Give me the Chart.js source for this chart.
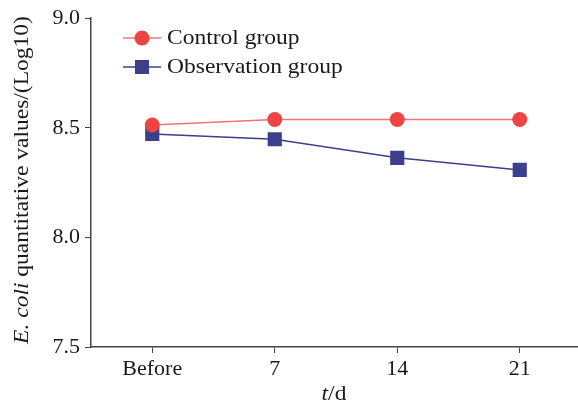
<!DOCTYPE html>
<html>
<head>
<meta charset="utf-8">
<script src="https://cdn.jsdelivr.net/npm/chart.js@4/dist/chart.umd.min.js"></script>
<style>
  html, body { margin: 0; padding: 0; background: #fff; overflow: hidden; }
  #wrap { width: 578px; height: 405px; overflow: hidden; }
  #lineChart { display: block; }
</style>
</head>
<body>
<div id="wrap"><canvas id="lineChart" width="591" height="405"></canvas></div>
<script>
// Chart data
const categories = ["Before", "7", "14", "21"];
const controlValues = [8.513, 8.538, 8.538, 8.538];
const observationValues = [8.472, 8.448, 8.363, 8.308];
const yTicks = [7.5, 8.0, 8.5, 9.0];

const seriesNames = ["Control group", "Observation group"];
const red = "#ef4444";
const redLine = "#f07474";
const blue = "#3b3f8c";
const serif = "'Liberation Serif', 'Times New Roman', serif";
const stretch = 1.12; // reference text is a bit wider than the font

// write a run of [text, italic] parts, stretched horizontally, starting at x
function drawParts(c, parts, x, y, align) {
  let total = 0;
  parts.forEach((p) => {
    c.font = (p[1] ? "italic " : "") + "21px " + serif;
    total += c.measureText(p[0]).width;
  });
  c.save();
  c.translate(x, y);
  c.scale(stretch, 1);
  let pos = align === "center" ? -total / 2 : 0;
  parts.forEach((p) => {
    c.font = (p[1] ? "italic " : "") + "21px " + serif;
    c.fillText(p[0], pos, 0);
    pos += c.measureText(p[0]).width;
  });
  c.restore();
}

// Draws the legend and the two axis titles (mixed italic text)
const extras = {
  id: "extras",
  afterDraw(chart) {
    const c = chart.ctx;
    c.save();
    c.textBaseline = "middle";
    c.textAlign = "left";

    // legend
    const rows = [
      { y: 38, line: redLine, fill: red, shape: "circle", text: seriesNames[0] },
      { y: 67, line: blue, fill: blue, shape: "rect", text: seriesNames[1] },
    ];
    rows.forEach((r) => {
      c.strokeStyle = r.line;
      c.lineWidth = 1.5;
      c.beginPath();
      c.moveTo(123, r.y);
      c.lineTo(161, r.y);
      c.stroke();
      c.fillStyle = r.fill;
      if (r.shape === "circle") {
        c.beginPath();
        c.arc(142, r.y, 7.5, 0, Math.PI * 2);
        c.fill();
      } else {
        c.fillRect(135, r.y - 7, 14, 14);
      }
      c.fillStyle = "#1a1a1a";
      drawParts(c, [[r.text, false]], 167, r.y, "left");
    });

    // x title: t/d
    drawParts(c, [["t", true], ["/d", false]], 334, 394, "center");

    // y title
    c.translate(22, 180);
    c.rotate(-Math.PI / 2);
    drawParts(c, [["E. coli", true], [" quantitative values/(Log10)", false]], 0, 0, "center");
    c.restore();
  },
};

const ctx = document.getElementById("lineChart").getContext("2d");

const lineChart = new Chart(ctx, {
  type: "line",
  data: {
    labels: categories,
    datasets: [
      {
        label: seriesNames[0],
        data: controlValues,
        borderColor: redLine,
        backgroundColor: red,
        borderWidth: 1.5,
        pointStyle: "circle",
        pointRadius: 7.5,
        pointBorderWidth: 0,
        pointBackgroundColor: red,
      },
      {
        label: seriesNames[1],
        data: observationValues,
        borderColor: blue,
        backgroundColor: blue,
        borderWidth: 1.5,
        pointStyle: "rect",
        pointRadius: 10,
        pointBorderWidth: 0,
        pointBackgroundColor: blue,
      },
    ],
  },
  options: {
    responsive: false,
    animation: false,
    // canvas is wider than the page, so the plot runs past the right edge
    layout: { padding: { top: 18, right: 2, left: 0, bottom: 0 } },
    plugins: {
      legend: { display: false },
      tooltip: { enabled: false },
    },
    scales: {
      x: {
        offset: true,
        grid: { display: true, drawOnChartArea: false, drawTicks: true, tickLength: 6, color: "#444", offset: false },
        border: { color: "#444", width: 1.5 },
        ticks: { color: "#1a1a1a", font: { family: serif, size: 22 }, padding: 3, maxRotation: 0 },
        afterFit: (scale) => { scale.height = 58; },
      },
      y: {
        min: 7.5,
        max: 9.0,
        afterBuildTicks: (scale) => { scale.ticks = yTicks.map((v) => ({ value: v })); },
        grid: { display: true, drawOnChartArea: false, drawTicks: true, tickLength: 6, color: "#444" },
        border: { color: "#444", width: 1.5 },
        ticks: {
          color: "#1a1a1a",
          font: { family: serif, size: 22 },
          padding: 5,
          callback: (v) => Number(v).toFixed(1),
        },
        afterFit: (scale) => { scale.width = 91; },
      },
    },
  },
  plugins: [extras],
});
</script>
</body>
</html>
